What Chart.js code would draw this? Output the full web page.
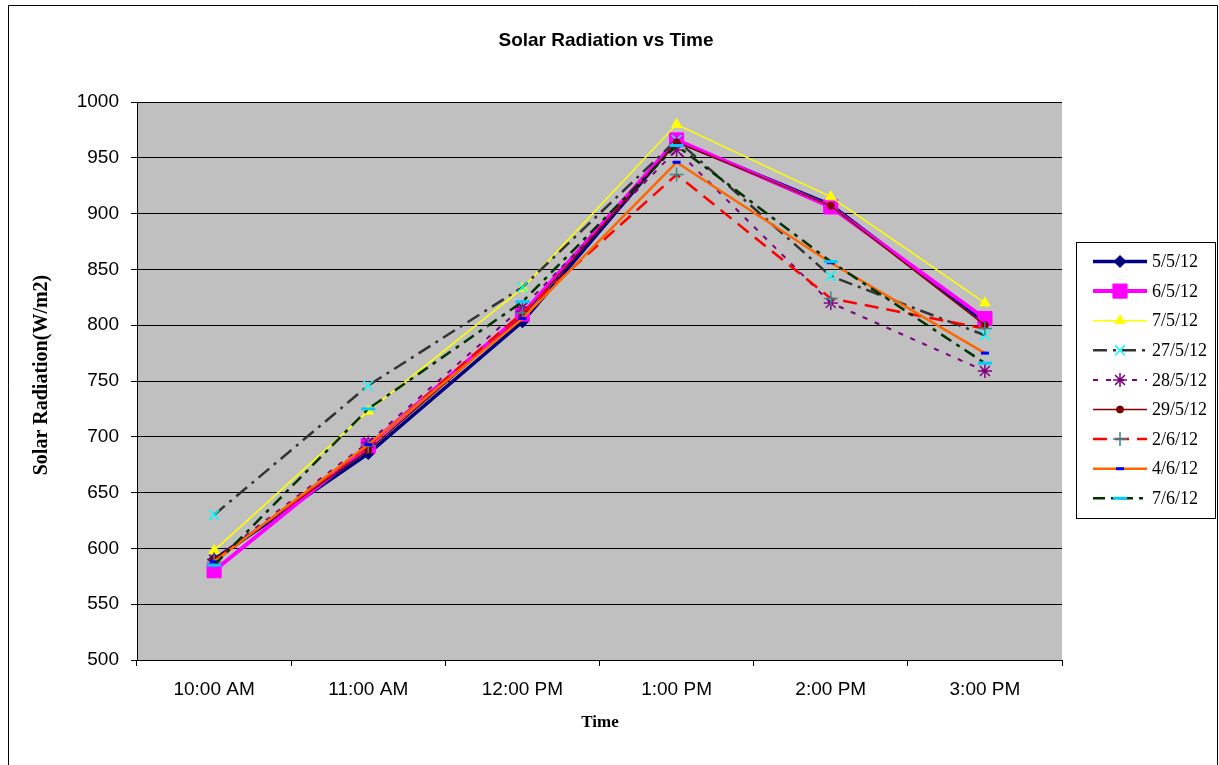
<!DOCTYPE html>
<html>
<head>
<meta charset="utf-8">
<script src="https://cdn.jsdelivr.net/npm/chart.js@4/dist/chart.umd.min.js"></script>
<style>
html,body{margin:0;padding:0;background:#fff;}
#wrap{width:1219px;height:765px;position:relative;}
</style>
</head>
<body>
<div id="wrap"><canvas id="c" width="1219" height="765"></canvas></div>
<script>
const categories = ["10:00 AM", "11:00 AM", "12:00 PM", "1:00 PM", "2:00 PM", "3:00 PM"];
const seriesNames = ["5/5/12", "6/5/12", "7/5/12", "27/5/12", "28/5/12", "29/5/12", "2/6/12", "4/6/12", "7/6/12"];
const s_5_5  = [590, 685, 803, 965, 908, 803];
const s_6_5  = [580, 692, 810, 966, 906, 806];
const s_7_5  = [598, 723, 833, 980, 915, 820];
const s_27_5 = [630, 746, 834, 966, 844, 791];
const s_28_5 = [590, 695, 816, 957, 820, 759];
const s_29_5 = [590, 688, 808, 964, 907, 800];
const s_2_6  = [588, 692, 811, 935, 824, 797];
const s_4_6  = [588, 693, 806, 946, 856, 775];
const s_7_6  = [585, 725, 821, 961, 857, 766];
const yMin = 500, yMax = 1000, yStep = 50;

const seriesValues = [s_5_5, s_6_5, s_7_5, s_27_5, s_28_5, s_29_5, s_2_6, s_4_6, s_7_6];
const styles = [
  {line:'#000080', w:3.5, dash:[], ps:'rectRot', r:6, pc:'#000080', pf:'#000080', pw:1},
  {line:'#FF00FF', w:4, dash:[], ps:'rect', r:10, pc:'#FF00FF', pf:'#FF00FF', pw:1},
  {line:'#FFFF00', w:1.5, dash:[], ps:'triangle', r:6, pc:'#FFFF00', pf:'#FFFF00', pw:1},
  {line:'#333333', w:2.5, dash:[14,6,3,6], ps:'crossRot', r:7, pc:'#00FFFF', pf:'#00FFFF', pw:1.5},
  {line:'#800080', w:2, dash:[5,8], ps:'star', r:7, pc:'#800080', pf:'#800080', pw:1.5},
  {line:'#800000', w:1.5, dash:[], ps:'circle', r:3.5, pc:'#800000', pf:'#800000', pw:1},
  {line:'#FF0000', w:2.5, dash:[14,8], ps:'cross', r:7, pc:'#2F8F8F', pf:'#2F8F8F', pw:1.5},
  {line:'#FF6600', w:2.5, dash:[], ps:'line', r:4, pc:'#0000FF', pf:'#0000FF', pw:3},
  {line:'#003300', w:2.5, dash:[12,6,4,6], ps:'line', r:7, pc:'#00CCFF', pf:'#00CCFF', pw:3}
];

const datasets = seriesNames.map((name, i) => ({
  label: name,
  data: seriesValues[i],
  borderColor: styles[i].line,
  borderWidth: styles[i].w,
  borderDash: styles[i].dash,
  pointStyle: styles[i].ps,
  pointRadius: styles[i].r,
  pointBorderColor: styles[i].pc,
  pointBackgroundColor: styles[i].pf,
  pointBorderWidth: styles[i].pw,
  tension: 0,
  fill: false,
  order: seriesNames.length - i
}));

const decor = {
  id: 'decor',
  beforeDraw(chart) {
    const {ctx, chartArea: a} = chart;
    ctx.save();
    ctx.fillStyle = '#fff';
    ctx.fillRect(0, 0, chart.width, chart.height);
    ctx.fillStyle = '#C0C0C0';
    ctx.fillRect(a.left, a.top, a.right - a.left, a.bottom - a.top);
    ctx.restore();
  },
  afterDraw(chart) {
    const ctx = chart.ctx;
    ctx.save();
    ctx.strokeStyle = '#000';
    ctx.lineWidth = 1;
    ctx.beginPath();
    ctx.moveTo(8.5, 770); ctx.lineTo(8.5, 5.5); ctx.lineTo(1217.5, 5.5); ctx.lineTo(1217.5, 770);
    ctx.stroke();
    ctx.fillStyle = '#000';
    ctx.textAlign = 'center';
    ctx.textBaseline = 'middle';
    ctx.font = 'bold 19px "Liberation Sans", Arial, sans-serif';
    ctx.fillText('Solar Radiation vs Time', 606, 41);
    ctx.font = 'bold 17px "Liberation Serif", "Times New Roman", serif';
    ctx.fillText('Time', 600, 723);
    ctx.save();
    ctx.translate(42, 375);
    ctx.rotate(-Math.PI / 2);
    ctx.font = 'bold 20px "Liberation Serif", "Times New Roman", serif';
    ctx.fillText('Solar Radiation(W/m2)', 0, 0);
    ctx.restore();
    const lx = 1076.5, ly = 242.5, lw = 139, lh = 276;
    ctx.fillStyle = '#fff';
    ctx.fillRect(lx, ly, lw, lh);
    ctx.strokeStyle = '#000';
    ctx.lineWidth = 1;
    ctx.strokeRect(lx, ly, lw, lh);
    chart.data.datasets.forEach((ds, i) => {
      const y = 261.5 + i * 29.6;
      ctx.save();
      ctx.strokeStyle = ds.borderColor;
      ctx.lineWidth = ds.borderWidth;
      ctx.setLineDash(ds.borderDash);
      ctx.beginPath();
      ctx.moveTo(1093, y); ctx.lineTo(1147, y);
      ctx.stroke();
      ctx.restore();
      ctx.save();
      ctx.strokeStyle = ds.pointBorderColor;
      ctx.fillStyle = ds.pointBackgroundColor;
      ctx.lineWidth = ds.pointBorderWidth;
      Chart.helpers.drawPoint(ctx, {pointStyle: ds.pointStyle, rotation: 0, radius: ds.pointRadius, borderWidth: ds.pointBorderWidth}, 1120, y);
      ctx.restore();
      ctx.fillStyle = '#000';
      ctx.textAlign = 'left';
      ctx.textBaseline = 'middle';
      ctx.font = '18px "Liberation Serif", "Times New Roman", serif';
      ctx.fillText(ds.label, 1152, y + 1);
    });
    ctx.restore();
  }
};

new Chart(document.getElementById('c'), {
  type: 'line',
  data: { labels: categories, datasets },
  options: {
    responsive: false,
    animation: false,
    layout: { padding: { left: 0, top: 102, right: 157, bottom: 0 } },
    plugins: { legend: { display: false }, title: { display: false }, tooltip: { enabled: false } },
    scales: {
      x: {
        offset: true,
        afterFit(s) { s.height = 105; },
        grid: { offset: true, drawOnChartArea: false, drawTicks: true, tickLength: 6, color: '#000', lineWidth: 1 },
        border: { color: '#000', width: 1 },
        ticks: { color: '#000', padding: 12, font: { family: '"Liberation Sans", Arial, sans-serif', size: 19 }, maxRotation: 0, autoSkip: false }
      },
      y: {
        min: yMin, max: yMax,
        afterFit(s) { s.width = 137; },
        grid: { color: '#000', lineWidth: 1, drawTicks: true, tickLength: 6, tickColor: '#000' },
        border: { color: '#000', width: 1 },
        ticks: { stepSize: yStep, color: '#000', padding: 12, font: { family: '"Liberation Sans", Arial, sans-serif', size: 19 }, callback: (v) => String(v) }
      }
    }
  },
  plugins: [decor]
});
</script>
</body>
</html>
